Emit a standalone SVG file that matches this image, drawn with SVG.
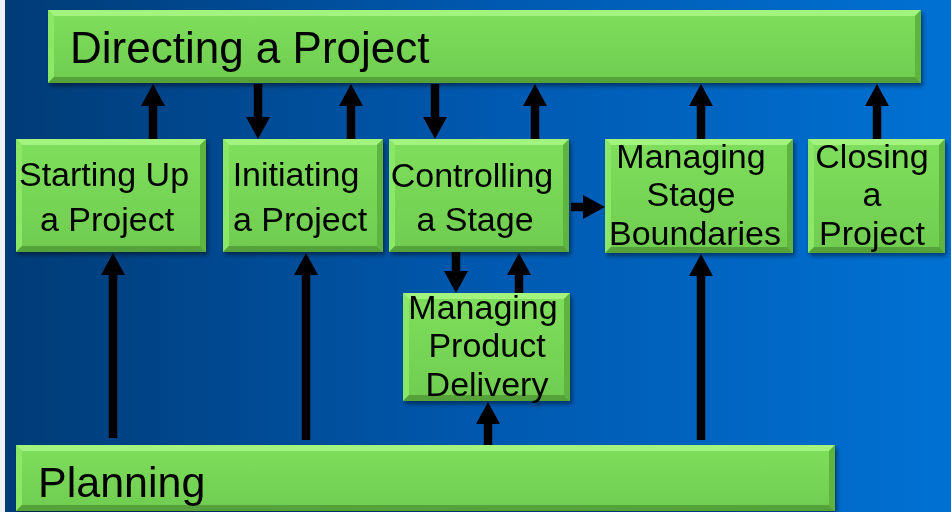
<svg xmlns="http://www.w3.org/2000/svg" width="951" height="512" viewBox="0 0 951 512">
<defs>
<linearGradient id="bg" x1="0" y1="0" x2="1" y2="0">
<stop offset="0" stop-color="#003b76"/>
<stop offset="0.5" stop-color="#0058ae"/>
<stop offset="1" stop-color="#0071d3"/>
</linearGradient>
<linearGradient id="face" x1="0" y1="0" x2="0" y2="1">
<stop offset="0" stop-color="#7fdf5c"/>
<stop offset="1" stop-color="#6fcc50"/>
</linearGradient>
<filter id="sh" x="-5%" y="-5%" width="110%" height="115%">
<feDropShadow dx="2" dy="3" stdDeviation="2" flood-color="#000" flood-opacity="0.45"/>
</filter>
<marker id="ah" viewBox="0 0 22 24" markerWidth="22" markerHeight="24" markerUnits="userSpaceOnUse" refX="12" refY="12" orient="auto">
<path d="M0,0 L22,12 L0,24 Z" fill="#000"/>
</marker>
<style>
.face{fill:url(#face)}
.bt{fill:#a2f47f}
.bl{fill:#8ae866}
.br{fill:#5fb441}
.bb{fill:#55a23a}
.t{font-family:"Liberation Sans",Arial,sans-serif;fill:#000}
.big{font-size:44px}
.box{font-size:34px;text-anchor:middle}
.c line{stroke:#000;stroke-width:8.5;marker-end:url(#ah)}
</style>
</defs>
<rect x="0" y="0" width="951" height="512" fill="url(#bg)"/>
<rect x="0" y="0" width="5" height="512" fill="#eef1f5"/>

<g id="directing" filter="url(#sh)">
<rect class="face" x="48" y="10" width="873" height="73"/>
<polygon class="bt" points="48,10 921,10 915,16 54,16"/>
<polygon class="bl" points="48,10 54,16 54,77 48,83"/>
<polygon class="br" points="921,10 915,16 915,77 921,83"/>
<polygon class="bb" points="48,83 921,83 915,77 54,77"/>
<text class="t big" x="70" y="63">Directing a Project</text>
</g>

<g id="starting" filter="url(#sh)">
<rect class="face" x="16" y="139" width="190" height="113"/>
<polygon class="bt" points="16,139 206,139 200,145 22,145"/>
<polygon class="bl" points="16,139 22,145 22,246 16,252"/>
<polygon class="br" points="206,139 200,145 200,246 206,252"/>
<polygon class="bb" points="16,252 206,252 200,246 22,246"/>
<text class="t box" x="104" y="186">Starting Up</text>
<text class="t box" x="107" y="231">a Project</text>
</g>

<g id="initiating" filter="url(#sh)">
<rect class="face" x="223" y="139" width="160" height="113"/>
<polygon class="bt" points="223,139 383,139 377,145 229,145"/>
<polygon class="bl" points="223,139 229,145 229,246 223,252"/>
<polygon class="br" points="383,139 377,145 377,246 383,252"/>
<polygon class="bb" points="223,252 383,252 377,246 229,246"/>
<text class="t box" x="296" y="186">Initiating</text>
<text class="t box" x="300" y="231">a Project</text>
</g>

<g id="controlling" filter="url(#sh)">
<rect class="face" x="389" y="139" width="180" height="113"/>
<polygon class="bt" points="389,139 569,139 563,145 395,145"/>
<polygon class="bl" points="389,139 395,145 395,246 389,252"/>
<polygon class="br" points="569,139 563,145 563,246 569,252"/>
<polygon class="bb" points="389,252 569,252 563,246 395,246"/>
<text class="t box" x="472" y="187">Controlling</text>
<text class="t box" x="475" y="231">a Stage</text>
</g>

<g id="msb" filter="url(#sh)">
<rect class="face" x="605" y="139" width="188" height="114"/>
<polygon class="bt" points="605,139 793,139 787,145 611,145"/>
<polygon class="bl" points="605,139 611,145 611,247 605,253"/>
<polygon class="br" points="793,139 787,145 787,247 793,253"/>
<polygon class="bb" points="605,253 793,253 787,247 611,247"/>
<text class="t box" x="691" y="168">Managing</text>
<text class="t box" x="691" y="206">Stage</text>
<text class="t box" x="695" y="245">Boundaries</text>
</g>

<g id="closing" filter="url(#sh)">
<rect class="face" x="808" y="139" width="137" height="114"/>
<polygon class="bt" points="808,139 945,139 939,145 814,145"/>
<polygon class="bl" points="808,139 814,145 814,247 808,253"/>
<polygon class="br" points="945,139 939,145 939,247 945,253"/>
<polygon class="bb" points="808,253 945,253 939,247 814,247"/>
<text class="t box" x="872" y="168">Closing</text>
<text class="t box" x="872" y="206">a</text>
<text class="t box" x="872" y="245">Project</text>
</g>

<g id="mpd" filter="url(#sh)">
<rect class="face" x="403" y="293" width="167" height="108"/>
<polygon class="bt" points="403,293 570,293 564,299 409,299"/>
<polygon class="bl" points="403,293 409,299 409,395 403,401"/>
<polygon class="br" points="570,293 564,299 564,395 570,401"/>
<polygon class="bb" points="403,401 570,401 564,395 409,395"/>
<text class="t box" x="483" y="319">Managing</text>
<text class="t box" x="487" y="357">Product</text>
<text class="t box" x="487" y="396">Delivery</text>
</g>

<g id="planning" filter="url(#sh)">
<rect class="face" x="16" y="445" width="819" height="66"/>
<polygon class="bt" points="16,445 835,445 829,451 22,451"/>
<polygon class="bl" points="16,445 22,451 22,505 16,511"/>
<polygon class="br" points="835,445 829,451 829,505 835,511"/>
<polygon class="bb" points="16,511 835,511 829,505 22,505"/>
<text class="t big" x="38" y="497" style="font-size:43px">Planning</text>
</g>

<g id="connectors" class="c">
<line x1="153" y1="139" x2="153" y2="94"/>
<line x1="258" y1="84" x2="258" y2="129"/>
<line x1="351" y1="139" x2="351" y2="94"/>
<line x1="435" y1="84" x2="435" y2="129"/>
<line x1="535" y1="139" x2="535" y2="94"/>
<line x1="701" y1="139" x2="701" y2="94"/>
<line x1="877" y1="139" x2="877" y2="94"/>
<line x1="571" y1="207" x2="595" y2="207"/>
<line x1="456" y1="252" x2="456" y2="283"/>
<line x1="519" y1="293" x2="519" y2="263"/>
<line x1="488" y1="445" x2="488" y2="412"/>
<line x1="113" y1="438" x2="113" y2="263"/>
<line x1="306" y1="440" x2="306" y2="263"/>
<line x1="701" y1="440" x2="701" y2="264"/>
</g>
</svg>
